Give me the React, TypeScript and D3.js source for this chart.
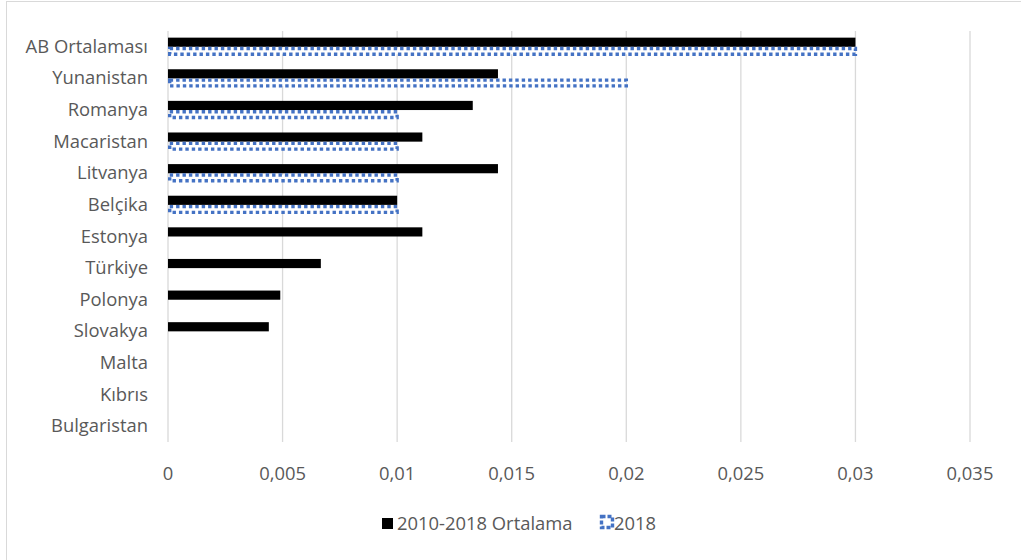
import React from "react";
import * as d3 from "d3";

const categories = ["AB Ortalaması","Yunanistan","Romanya","Macaristan","Litvanya","Belçika","Estonya","Türkiye","Polonya","Slovakya","Malta","Kıbrıs","Bulgaristan"];
const avgValues = [0.03,0.0144,0.0133,0.0111,0.0144,0.01,0.0111,0.00667,0.0049,0.0044,0,0,0];
const values2018 = [0.03,0.02,0.01,0.01,0.01,0.01,0,0,0,0,0,0,0];
const ticks = [0,0.005,0.01,0.015,0.02,0.025,0.03,0.035];
const tickLabels = ["0","0,005","0,01","0,015","0,02","0,025","0,03","0,035"];
const seriesNames = ["2010-2018 Ortalama","2018"];

const W = 1021, H = 560;
const blue = "#4472C4";
const font = "'Open Sans', sans-serif";
const fs = 18.4;

export default function App() {
  const x = d3.scaleLinear().domain([0, 0.035]).range([168, 970]);
  const y = d3.scaleBand().domain(categories).range([31, 442]).paddingInner(0.42).paddingOuter(0.21);
  const bh = y.bandwidth() / 2;
  return (
    <svg width={W} height={H} style={{ position: "absolute", left: 0, top: 0, background: "#fff" }}>
      <rect x={6.5} y={1.5} width={W} height={H} fill="#fff" stroke="#d9d9d9" strokeWidth={1} />
      {ticks.map((t, i) => (
        <g key={i}>
          <line x1={x(t)} x2={x(t)} y1={31} y2={442} stroke="#d9d9d9" strokeWidth={1.3} />
          <text x={x(t)} y={480} textAnchor="middle" fontFamily={font} fontSize={fs} fill="#595959">{tickLabels[i]}</text>
        </g>
      ))}
      {categories.map((c, i) => {
        const y0 = y(c)!;
        return (
          <g key={c}>
            <text x={148} y={y0 + bh + 6} textAnchor="end" fontFamily={font} fontSize={fs} fill="#595959">{c}</text>
            {avgValues[i] > 0 && (
              <rect x={x(0)} y={y0} width={x(avgValues[i]) - x(0)} height={bh} fill="#000" />
            )}
            {values2018[i] > 0 && (
              <rect x={x(0) + 1.7} y={y0 + bh + 1.7} width={x(values2018[i]) - x(0) - 1.7} height={bh - 3.4}
                fill="#fff" stroke={blue} strokeWidth={3.4} strokeDasharray="3.4 3" />
            )}
          </g>
        );
      })}
      <g>
        <rect x={382} y={518} width={11} height={11} fill="#000" />
        <text x={397} y={530} fontFamily={font} fontSize={fs} fill="#595959">{seriesNames[0]}</text>
        <rect x={601.5} y={516.5} width={11} height={11} fill="#fff" stroke={blue} strokeWidth={3.4} strokeDasharray="4 2" />
        <text x={614} y={530} fontFamily={font} fontSize={fs} fill="#595959">{seriesNames[1]}</text>
      </g>
    </svg>
  );
}
